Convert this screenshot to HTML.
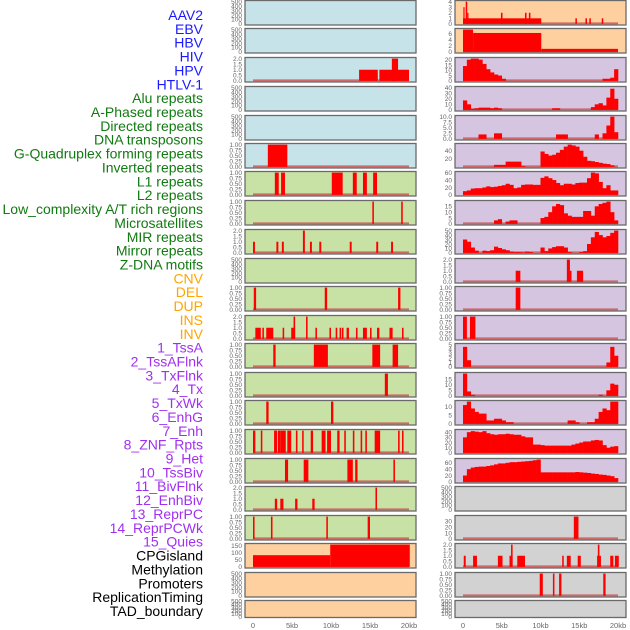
<!DOCTYPE html>
<html><head><meta charset="utf-8"><style>
body{margin:0;background:#fff;width:630px;height:630px;overflow:hidden}
svg{display:block}
</style></head><body>
<svg id="chart" width="630" height="630" xmlns="http://www.w3.org/2000/svg" font-family="Liberation Sans, sans-serif"></svg>
<script>
// ---- track labels ----
const trackLabels = ["AAV2","EBV","HBV","HIV","HPV","HTLV-1","Alu repeats","A-Phased repeats","Directed repeats","DNA transposons","G-Quadruplex forming repeats","Inverted repeats","L1 repeats","L2 repeats","Low_complexity A/T rich regions","Microsatellites","MIR repeats","Mirror repeats","Z-DNA motifs","CNV","DEL","DUP","INS","INV","1_TssA","2_TssAFlnk","3_TxFlnk","4_Tx","5_TxWk","6_EnhG","7_Enh","8_ZNF_Rpts","9_Het","10_TssBiv","11_BivFlnk","12_EnhBiv","13_ReprPC","14_ReprPCWk","15_Quies","CPGisland","Methylation","Promoters","ReplicationTiming","TAD_boundary"];
const labelGroups = [6,13,5,15,5];
const xTickValues = [0,5,10,15,20];
const xTickLabels = ["0","5kb","10kb","15kb","20kb"];

// ---- left column data: bars [startKb, endKb, value] ----
const L2bars = [[13.6,16.0,1],[16.2,20.0,1],[17.8,18.6,2]];
const L5bars = [[1.9,4.4,1]];
const L6bars = [[2.8,3.3,1],[3.6,4.1,1],[10.1,11.5,1],[12.8,13.3,1],[14.1,14.6,1],[15.4,15.9,1]];
const L7bars = [[15.3,15.5,1],[19.0,19.2,1]];
const L8bars = [[0,0.25,1],[3.0,3.25,1],[3.7,3.95,1],[6.4,6.65,2],[7.3,7.55,1],[8.5,8.75,1],[12.4,12.65,1],[15.8,16.05,1],[17.7,17.95,1]];
const L10bars = [[0.1,0.4,1],[9.2,9.5,1],[18.6,18.9,1]];
const L11bars = [[0.3,1.0,1],[1.2,1.4,1],[1.7,2.6,1],[3.8,4.0,1],[4.9,5.4,1],[5.2,5.4,2],[6.8,7.0,2],[8.0,8.2,1],[9.8,10.0,1],[10.6,10.8,1],[11.1,11.3,1],[11.4,11.6,1],[12.0,12.3,1],[13.2,13.4,1],[14.1,14.6,1],[15.0,15.2,1],[15.9,16.2,1],[17.5,17.9,1],[19.1,19.3,1]];
const L12bars = [[2.6,2.9,1],[7.8,9.6,1],[15.3,16.3,1],[17.9,18.6,1]];
const L13bars = [[16.9,17.3,1]];
const L14bars = [[1.7,2.0,1],[10.0,10.3,1]];
const L15bars = [[0,0.3,1],[1.0,1.2,1],[2.7,3.1,1],[3.2,3.5,1],[3.5,4.2,1],[4.4,4.9,1],[5.5,5.7,1],[6.3,6.5,1],[7.4,7.7,1],[8.8,9.3,1],[9.5,10.0,1],[10.8,11.1,1],[11.7,11.9,1],[12.8,13.0,1],[13.8,14.0,1],[14.4,14.6,1],[15.6,16.3,1],[18.6,18.8,1],[19.1,19.3,1]];
const L16bars = [[4.1,4.5,1],[6.5,7.1,1],[12.1,12.8,1],[13.1,13.4,1],[18.0,18.2,1]];
const L17bars = [[2.8,3.1,1],[3.5,3.9,1],[5.4,5.7,1],[7.6,7.9,1],[15.7,15.9,2]];
const L18bars = [[0,0.2,1],[2.3,2.5,1],[9.4,9.6,1],[14.7,15.0,1]];
const L19bars = [[0,9.9,83],[9.9,20.1,158]];

// ---- right column data: bars and 0.5kb-bin profiles ----
const R0bars = [[0,10.1,1],[0.05,0.2,3],[0.35,0.55,4],[0.55,0.7,2],[4.9,5.1,2],[8.0,8.2,2],[8.5,8.7,2],[14.5,14.7,1],[15.8,16.0,1],[16.3,16.5,1],[17.9,18.1,1]];
const R1bars = [[0,1.3,7.3],[1.3,10.1,6.2],[10.1,20,1]];
const R2bins = [14,20,21,21,20,16,11,8,6,5,2,0,0,0,0,0,0,0,0,0,0,0,0,0,0,0,0,0,0,0,0,0,0,0,0,0,2,2,3,11];
const R3bins = [17,10,2,3,4,4,4,3,4,3,0,0,0,0,0,0,0,0,0,0,0,0,0,3,3,0,0,0,0,0,0,0,0,5,10,12,8,22,38,20];
const R4bins = [0,0,0,0,2,2,0,0,2.5,2.5,0,0,0,0,0,0,0,0,0,0,0,0,0,0,2,2,2,0,0,0,0,0,0,0,2,0,2.5,6,10,3];
const R5bins = [0,0,0,0,0,0,0,0,5,5,5,13,13,13,13,2,0,0,0,0,38,32,28,30,35,42,50,55,53,50,40,25,15,14,12,10,8,7,4,0];
const R6bins = [10,12,17,18,18,20,23,21,22,24,26,30,27,18,20,27,28,28,27,27,46,50,45,40,32,26,30,30,28,32,33,33,45,60,58,35,18,26,12,12];
const R7bins = [0,0,0,0,0,0,0,0,3,4,0,2,3,3,0,0,0,0,0,0,5,6,10,15,17,16,9,7,6,6,6,11,11,7,15,17,18,19,10,3];
const R8bins = [30,25,12,5,0,5,4,6,14,11,8,6,3,2,2,1,3,2,0,0,12,4,10,13,15,15,12,2,0,0,2,4,20,35,47,40,35,38,45,50];
const R9bars = [[6.8,7.4,1],[13.4,13.8,2],[13.8,14.0,1],[14.7,15.5,1]];
const R10bars = [[6.8,7.4,1]];
const R11bars = [[0,0.5,1],[0.9,1.6,1]];
const R12bins = [4.5,1.5,0,0,0,0,0,0,0,0,0,0,0,0,0,0,0,0,0,0,0,0,0,0,0,0,0,0,0,0,0,0,0,0,0,0,0,1,4.5,2.5];
const R13bins = [20,4,1,0,0,0,0,0,0,0,0,0,0,0,0,0,0,0,0,0,0,0,0,0,0,0,0,0,0,0,0,0,0,0,0,1,0,5,11,10];
const R14bins = [11,13,9,7,6,6,2,2,3,3,2,1,1,0,0,0,0,0,0,0,0,0,0,0,0,0,0,2,2,1,0,0,1,1,3,7,9,8,13,13];
const R15bins = [30,40,42,41,40,42,38,36,35,36,36,37,36,35,35,32,30,30,16,16,15,14,14,14,14,14,14,14,16,18,20,22,22,24,25,24,15,10,12,13];
const R16bins = [20,40,45,47,48,48,50,52,55,58,58,60,62,62,63,64,65,66,68,70,30,30,30,30,30,30,30,30,30,31,30,29,28,26,25,23,22,20,18,12];
const R18bars = [[14.3,14.9,38]];
const R19bars = [[0.1,0.35,1],[1.3,1.8,1],[4.5,5.1,1],[6.0,6.4,1],[6.2,6.4,2],[7.0,8.0,1],[12.8,13.0,1],[13.4,13.9,1],[14.8,15.2,1],[17.3,17.8,1],[17.4,17.6,2],[19.0,19.4,1],[19.6,20.1,1]];
const R20bars = [[9.9,10.3,1],[11.6,11.8,1],[12.4,12.7,1],[18.1,18.4,1]];

// ---- tick sets ----
const T500 = [0,100,200,300,400,500];
const T1 = [0,0.25,0.5,0.75,1];
const T2 = [0,0.5,1,1.5,2];

const BLUE="#c7e3ea", PEACH="#ffd09f", LAV="#d5c5e1", GREEN="#c8e1a5", GRAY="#d2d2d2";
const rowTops=[0,28,57,86,115,143,171,200,229,258,286,315,343,372,400,429,458,486,515,543,572,600];
const left=[
 {bg:BLUE,t:T500},{bg:BLUE,t:T500},{bg:BLUE,t:T2,b:L2bars},{bg:BLUE,t:T500},{bg:BLUE,t:T500},{bg:BLUE,t:T1,b:L5bars},
 {bg:GREEN,t:T1,b:L6bars},{bg:GREEN,t:T1,b:L7bars},{bg:GREEN,t:T2,b:L8bars},{bg:GREEN,t:T500},{bg:GREEN,t:T1,b:L10bars},
 {bg:GREEN,t:T2,b:L11bars},{bg:GREEN,t:T1,b:L12bars},{bg:GREEN,t:T1,b:L13bars},{bg:GREEN,t:T1,b:L14bars},{bg:GREEN,t:T1,b:L15bars},
 {bg:GREEN,t:T1,b:L16bars},{bg:GREEN,t:T2,b:L17bars},{bg:GREEN,t:T1,b:L18bars},{bg:PEACH,t:[0,50,100,150],b:L19bars,max:158},
 {bg:PEACH,t:T500},{bg:PEACH,t:T500}];
const right=[
 {bg:PEACH,t:[0,1,2,3,4],b:R0bars},{bg:PEACH,t:[0,2,4,6],b:R1bars,max:7.3},{bg:LAV,t:[0,5,10,15,20],n:R2bins,max:21},
 {bg:LAV,t:[0,10,20,30,40],n:R3bins},{bg:LAV,t:[0,2.5,5,7.5,10],n:R4bins,lab:["0.0","2.5","5.0","7.5","10.0"]},
 {bg:LAV,t:[20,40],n:R5bins,max:55},{bg:LAV,t:[0,20,40,60],n:R6bins},{bg:LAV,t:[0,5,10,15],n:R7bins,max:19},
 {bg:LAV,t:[0,10,20,30,40,50],n:R8bins},{bg:LAV,t:T2,b:R9bars},{bg:LAV,t:T1,b:R10bars},{bg:LAV,t:T1,b:R11bars},
 {bg:LAV,t:[0,1,2,3,4,5],n:R12bins},{bg:LAV,t:[0,5,10,15],n:R13bins,max:20},{bg:LAV,t:[0,5,10],n:R14bins,max:13},
 {bg:LAV,t:[0,10,20,30,40],n:R15bins,max:43},{bg:LAV,t:[0,20,40,60],n:R16bins,max:70},{bg:GRAY,t:T500},
 {bg:GRAY,t:[0,10,20,30],b:R18bars,max:38},{bg:GRAY,t:T2,b:R19bars},{bg:GRAY,t:T1,b:R20bars},{bg:GRAY,t:T500}];

const svg=document.getElementById('chart');
const NS="http://www.w3.org/2000/svg";
function mk(tag,attrs,parent){const e=document.createElementNS(NS,tag);for(const k in attrs)e.setAttribute(k,attrs[k]);(parent||svg).appendChild(e);return e;}

// labels
const groupColors=["#1a1aff","#117a11","#ffa500","#a030f0","#000"];
let li=0;
labelGroups.forEach((n,g)=>{for(let i=0;i<n;i++){
  const t=mk('text',{x:203,y:20+li*13.86,'text-anchor':'end','font-size':'14',fill:groupColors[g]});
  t.textContent=trackLabels[li];
  
  
  li++;}});

function fmt(v,ticks){
  const dec=ticks.some(x=>Math.round(x*100)%100!==0)?(ticks.some(x=>Math.round(x*100)%50!==0)?2:1):0;
  return v.toFixed(dec);
}
function drawPanel(p,row,side){
  const x0=side?455:245, w=171;
  const kx=v=>(side?463:253)+v*(side?7.75:7.8);
  const top=rowTops[row]+0.5, h=row===21?17:24.5;
  const g=mk('g',{});
  
  
  mk('rect',{x:x0,y:top,width:w,height:h,fill:p.bg},g);
  const M=p.max!==undefined?p.max:p.t[p.t.length-1];
  const lo=-0.05*M, hi=1.05*M;
  const ky=v=>top+h-(v-lo)/(hi-lo)*h;
  p.t.forEach((tv,i)=>{
    const lt=mk('text',{x:x0-3,y:ky(tv)+2.3,'text-anchor':'end','font-size':'6.5',fill:'#666'},g);
    lt.textContent=p.lab?p.lab[i]:fmt(tv,p.t);
    
    
  });
  const hasData=p.b||p.n;
  if(hasData){
    mk('line',{x1:kx(0),x2:kx(20),y1:ky(0)-0.5,y2:ky(0)-0.5,stroke:'#cc5050','stroke-width':2,opacity:0.8},g);
  }
  if(p.b) p.b.forEach(b=>{
    const r=mk('rect',{x:kx(b[0]),y:ky(b[2]),width:Math.max(1.2,kx(b[1])-kx(b[0])),height:ky(0)-ky(b[2]),fill:'#ff0000'},g);
    
    
  });
  if(p.n) p.n.forEach((v,i)=>{ if(v<=0) return;
    const r=mk('rect',{x:kx(i*0.5),y:ky(v),width:kx((i+1)*0.5)-kx(i*0.5)+0.3,height:ky(0)-ky(v),fill:'#ff0000'},g);
    
    
  });
  mk('rect',{x:x0,y:top,width:w,height:h,fill:'none',stroke:'#6a6a6a','stroke-width':1.3},g);
}
left.forEach((p,i)=>drawPanel(p,i,0));
right.forEach((p,i)=>drawPanel(p,i,1));
[0,1].forEach(side=>{xTickValues.forEach((v,i)=>{
  const t=mk('text',{x:(side?463:253)+v*(side?7.75:7.8),y:628,'text-anchor':'middle','font-size':'7.5',fill:'#666'});
  t.textContent=xTickLabels[i];
  
  
});});
</script>
</body></html>
